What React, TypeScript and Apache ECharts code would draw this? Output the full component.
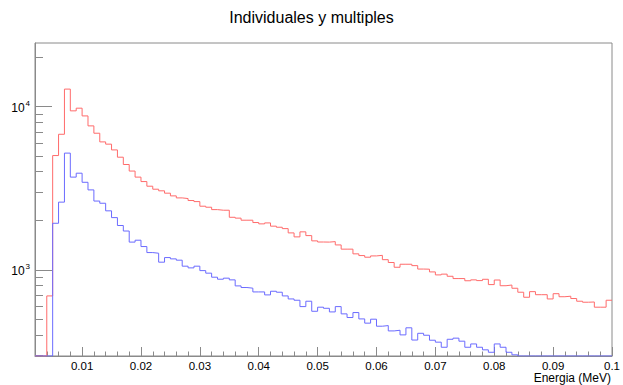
import React, { useEffect, useRef } from 'react';
import * as echarts from 'echarts';

const TITLE = 'Individuales y multiples';
const X_TITLE = 'Energia (MeV)';
const X_MIN = 0.002;
const X_MAX = 0.1;
const BIN_WIDTH = 0.001;
const Y_MIN = 297;
const Y_MAX = 24520;

const X_MAJOR = [0.01, 0.02, 0.03, 0.04, 0.05, 0.06, 0.07, 0.08, 0.09, 0.1];
const X_MINOR = [
  0.004, 0.006, 0.008, 0.012, 0.014, 0.016, 0.018, 0.022, 0.024, 0.026, 0.028,
  0.032, 0.034, 0.036, 0.038, 0.042, 0.044, 0.046, 0.048, 0.052, 0.054, 0.056, 0.058,
  0.062, 0.064, 0.066, 0.068, 0.072, 0.074, 0.076, 0.078, 0.082, 0.084, 0.086, 0.088,
  0.092, 0.094, 0.096, 0.098,
];
const Y_MAJOR = [1000, 10000];
const Y_MINOR = [300, 400, 500, 600, 700, 800, 900, 2000, 3000, 4000, 5000, 6000, 7000, 8000, 9000, 20000];

// Individual hits (red), bins of 0.001 MeV from 0.002 to 0.1
const RED = [
  0, 0, 693, 5015, 6770, 12800, 9420, 9780, 8770, 7620,
  6870, 6080, 5890, 5430, 4900, 4420, 4030, 3700, 3475, 3255,
  3120, 3050, 2950, 2840, 2760, 2735, 2660, 2620, 2455, 2420,
  2340, 2320, 2320, 2100, 2075, 2015, 2015, 1950, 1914, 1940,
  1853, 1825, 1790, 1685, 1593, 1710, 1622, 1506, 1482, 1480,
  1490, 1422, 1340, 1340, 1254, 1224, 1196, 1218, 1228, 1155,
  1110, 1038, 1083, 1083, 1062, 1012, 1010, 972, 932, 942,
  914, 885, 885, 858, 869, 860, 876, 813, 867, 800,
  808, 772, 730, 680, 736, 705, 705, 664, 715, 685,
  690, 668, 643, 634, 636, 591, 591, 652,
];

// Multiple hits (blue)
const BLUE = [
  0, 0, 0, 1930, 2600, 5190, 3700, 3910, 3440, 3090,
  2640, 2560, 2300, 2090, 1870, 1730, 1480, 1520, 1390, 1277,
  1265, 1115, 1190, 1168, 1147, 1054, 1029, 1054, 990, 955,
  902, 877, 890, 869, 798, 780, 773, 733, 733, 703,
  740, 730, 693, 664, 652, 596, 643, 558, 591, 582,
  553, 596, 538, 511, 548, 501, 472, 499, 452, 456,
  423, 427, 400, 442, 372, 409, 398, 371, 361, 336,
  376, 382, 366, 336, 352, 336, 324, 313, 352, 336,
  313, 302, 0, 0, 0, 0, 0, 0, 0, 0,
  0, 0, 0, 0, 0, 0, 0, 0,
];

const FONT = '"Liberation Sans", Arial, Helvetica, sans-serif';
const AXIS_COLOR = '#8a8a8a';

export default function App() {
  const ref = useRef<HTMLDivElement>(null);

  useEffect(() => {
    if (!ref.current) return;
    const chart = echarts.init(ref.current, null, { renderer: 'svg' });
    const edges = RED.map((_, i) => +(X_MIN + i * BIN_WIDTH).toFixed(4));
    const toSteps = (vals: number[]) => {
      const pts = vals.map((v, i) => [edges[i], v > 0 ? v : Y_MIN]);
      const last = vals[vals.length - 1];
      pts.push([X_MAX, last > 0 ? last : Y_MIN]);
      return pts;
    };

    chart.setOption({
      animation: false,
      backgroundColor: '#ffffff',
      title: {
        text: TITLE,
        left: 'center',
        top: 9,
        padding: 0,
        textStyle: { fontFamily: FONT, fontSize: 16, fontWeight: 'normal', color: '#000' },
      },
      grid: {
        left: 35,
        right: 6,
        top: 43,
        bottom: 29,
        show: true,
        borderColor: AXIS_COLOR,
        borderWidth: 1,
        backgroundColor: 'transparent',
      },
      xAxis: [
        {
          type: 'value',
          min: X_MIN,
          max: X_MAX,
          position: 'bottom',
          name: X_TITLE,
          nameLocation: 'end',
          nameGap: -1,
          nameTextStyle: {
            fontFamily: FONT,
            fontSize: 12,
            color: '#000',
            align: 'right',
            verticalAlign: 'top',
            padding: [16, 0, 0, 0],
          },
          axisLine: { show: true, lineStyle: { color: AXIS_COLOR, width: 1 } },
          axisTick: { show: true, inside: true, length: 9, customValues: X_MAJOR, lineStyle: { color: AXIS_COLOR } },
          axisLabel: {
            show: true,
            customValues: X_MAJOR,
            margin: 4,
            fontFamily: FONT,
            fontSize: 11.5,
            color: '#000',
            showMinLabel: true,
            showMaxLabel: true,
          },
          splitLine: { show: false },
        },
        {
          type: 'value',
          min: X_MIN,
          max: X_MAX,
          position: 'bottom',
          axisLine: { show: false },
          axisTick: { show: true, inside: true, length: 4.5, customValues: X_MINOR, lineStyle: { color: AXIS_COLOR } },
          axisLabel: { show: false },
          splitLine: { show: false },
        },
      ],
      yAxis: [
        {
          type: 'log',
          logBase: 10,
          min: Y_MIN,
          max: Y_MAX,
          position: 'left',
          axisLine: { show: true, lineStyle: { color: AXIS_COLOR, width: 1 } },
          axisTick: { show: true, inside: true, length: 17, customValues: Y_MAJOR, lineStyle: { color: AXIS_COLOR } },
          axisLabel: {
            show: true,
            customValues: Y_MAJOR,
            margin: 5,
            formatter: (v: number) => `{b|10}{s|${Math.round(Math.log10(v))}}`,
            rich: {
              b: { fontFamily: FONT, fontSize: 12, color: '#000', padding: [3, 0, 0, 0] },
              s: { fontFamily: FONT, fontSize: 8, color: '#000', verticalAlign: 'top', padding: [0, 0, 0, 1] },
            },
          },
          splitLine: { show: false },
        },
        {
          type: 'log',
          logBase: 10,
          min: Y_MIN,
          max: Y_MAX,
          position: 'left',
          axisLine: { show: false },
          axisTick: { show: true, inside: true, length: 8, customValues: Y_MINOR, lineStyle: { color: AXIS_COLOR } },
          axisLabel: { show: false },
          splitLine: { show: false },
        },
      ],
      series: [
        {
          name: 'Individuales',
          type: 'line',
          step: 'end',
          xAxisIndex: 0,
          yAxisIndex: 0,
          symbol: 'none',
          clip: true,
          lineStyle: { color: '#ff6b6b', width: 1 },
          data: toSteps(RED),
        },
        {
          name: 'Multiples',
          type: 'line',
          step: 'end',
          xAxisIndex: 0,
          yAxisIndex: 0,
          symbol: 'none',
          clip: true,
          lineStyle: { color: '#6b6bff', width: 1 },
          data: toSteps(BLUE),
        },
      ],
    });

    return () => chart.dispose();
  }, []);

  return <div ref={ref} style={{ position: 'fixed', left: 0, top: 0, width: 623, height: 385 }} />;
}
